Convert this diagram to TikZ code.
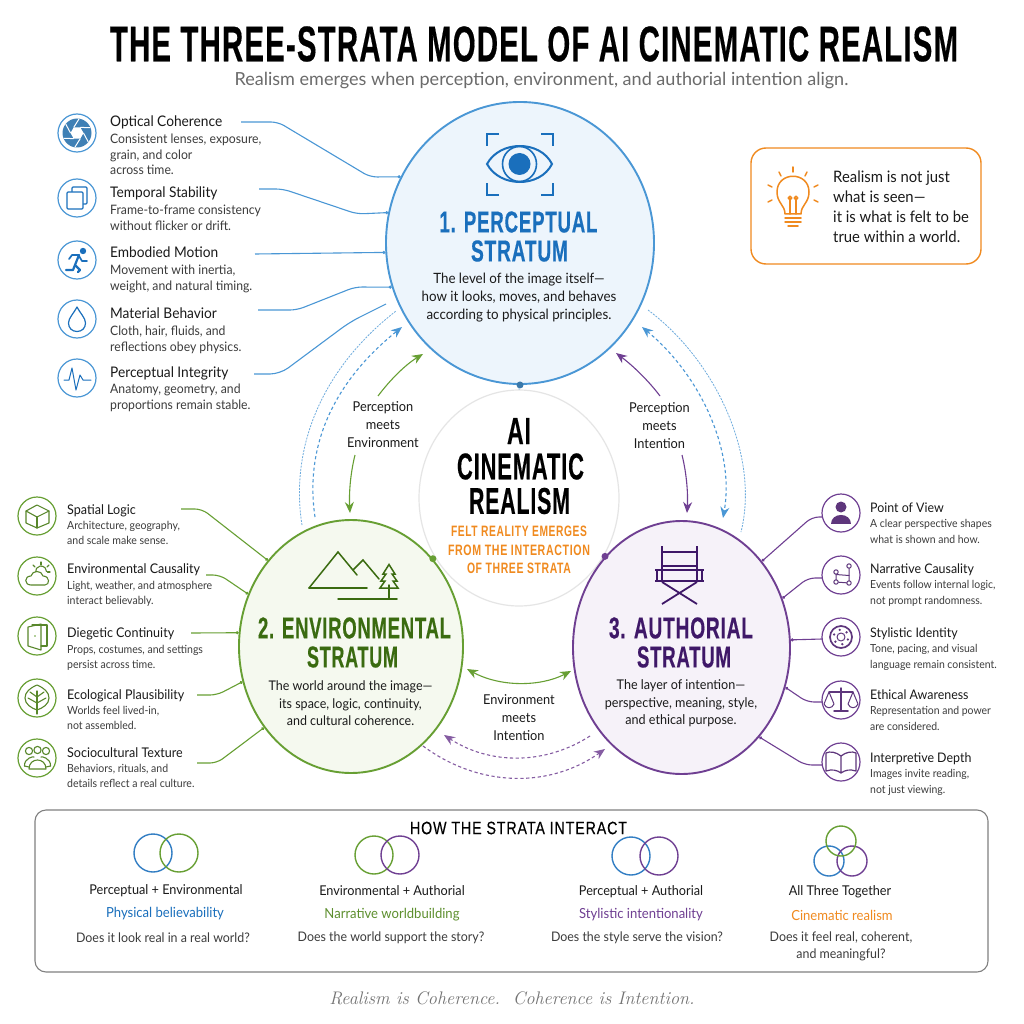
\documentclass[tikz,border=0pt]{standalone}
\usepackage{fontspec}
\usepackage{graphicx}
\usetikzlibrary{arrows.meta,shapes.geometric}
\newfontfamily\bodyf{Lato}[FakeStretch=0.94]
\newfontfamily\subf{Lato}
\newfontfamily\headf{Liberation Sans}[LetterSpace=4,BoldFeatures={FakeBold=0.5}]
\newfontfamily\headl{Liberation Sans}[LetterSpace=6]
\newfontfamily\headm{Liberation Sans}[LetterSpace=6,FakeBold=0.35]
\definecolor{bline}{HTML}{4A97D5}
\definecolor{bdark}{HTML}{1A6FBC}
\definecolor{bfill}{HTML}{EDF5FC}
\definecolor{gline}{HTML}{679F33}
\definecolor{gdark}{HTML}{3A6B10}
\definecolor{gfill}{HTML}{F5F9EF}
\definecolor{pline}{HTML}{6F3F92}
\definecolor{pdark}{HTML}{3F1868}
\definecolor{pfill}{HTML}{F6F2F9}
\definecolor{oline}{HTML}{F08A1F}
\definecolor{txt}{HTML}{1A1A1A}
\definecolor{sub}{HTML}{3C3C3C}
\newcommand\hdg[3]{\resizebox{#1pt}{#2pt}{\headf\bfseries #3}}
\newcommand\hdo[3]{\resizebox{#1pt}{#2pt}{\headl\bfseries #3}}
\newcommand\hdr[3]{\resizebox{#1pt}{#2pt}{\headm #3}}
\newcommand\itm[8]{%
  \node[ttl,font=\bodyf\fontsize{#1}{#1}\selectfont] (t#2) at (#3,#4) {#5};
  \node[dsc,font=\bodyf\fontsize{#6}{15.5}\selectfont] (d#2) at (#3,#7) {#8};}
\tikzset{
  ttl/.style={anchor=base west,inner sep=0pt,text=txt,yshift=-5.5pt},
  dsc/.style={anchor=north west,inner sep=0pt,text=sub,align=left},
  stratum/.style={ellipse,draw,line width=1.9pt,inner sep=0pt},
  ring/.style={circle,draw,line width=1.2pt,minimum size=38pt,inner sep=0pt,fill=white},
  iconb/.style={draw=bdark,line width=1.2pt,line join=round,line cap=round},
  icong/.style={draw=gline!85!black,line width=1.1pt,line join=round,line cap=round},
  iconp/.style={draw=pline!85!black,line width=1.2pt,line join=round,line cap=round},
  conn/.style={line width=1.1pt,rounded corners=7pt,-{Circle[length=3pt]}},
  connfree/.style={line width=1.1pt,rounded corners=7pt},
  midlab/.style={inner sep=0pt,align=center,text=txt,font=\bodyf\fontsize{13.6}{17.6}\selectfont},
  cdesc/.style={inner sep=0pt,align=center,text=txt,font=\bodyf\fontsize{14.2}{18}\selectfont},
  arrowt/.style={-{Stealth[length=11pt,width=9pt]},line width=1.1pt},
  arrowb/.style={{Stealth[length=11pt,width=9pt]}-{Stealth[length=11pt,width=9pt]},line width=1.1pt},
  dashl/.style={line width=1.1pt,dash pattern=on 3.2pt off 2.6pt},
  dotl/.style={line width=0.8pt,dash pattern=on 2pt off 1.2pt},
  dotnode/.style={circle,inner sep=0pt,minimum size=7pt},
  pq/.style={inner sep=0pt,align=center,text=sub,font=\bodyf\fontsize{13.2}{17}\selectfont},
  pt/.style={inner sep=0pt,text=txt,font=\bodyf\fontsize{13.5}{15}\selectfont},
  pk/.style={inner sep=0pt,font=\bodyf\fontsize{13.9}{15}\selectfont},
  venn/.style={circle,draw,line width=1.4pt,inner sep=0pt,minimum size=38pt},
  venns/.style={circle,draw,line width=1.4pt,inner sep=0pt,minimum size=30pt},
}
\begin{document}
\begin{tikzpicture}[x=1pt,y=-1pt]
\useasboundingbox (0,0) rectangle (1024,1024);
\fill[white] (0,0) rectangle (1024,1024);
% title
\node[inner sep=0pt] (title) at (534,44) {\hdg{848}{35}{THE THREE-STRATA MODEL OF AI CINEMATIC REALISM}};
\node[inner sep=0pt,text=black!58,font=\subf\fontsize{18.05}{20}\selectfont] (subtitle) at (541.5,81) {Realism emerges when perception, environment, and authorial intention align.};
% strata
\node[stratum,draw=bline,fill=bfill,minimum width=268pt,minimum height=282pt] (P) at (520,243) {};
\node[ellipse,draw=black!10,line width=1.2pt,fill=white,inner sep=0pt,minimum width=200pt,minimum height=216pt] (C) at (519,498) {};
\node[stratum,draw=gline,fill=gfill,minimum width=224pt,minimum height=253pt] (E) at (351,646.5) {};
\node[stratum,draw=pline,fill=pfill,minimum width=217pt,minimum height=253pt] (A) at (681.5,647.5) {};
\node[dotnode,fill=bline!80!black] (dp) at (P.south) {};
\node[dotnode,fill=gline] (de) at (E.47) {};
\node[dotnode,fill=pline] (da) at (A.130.6) {};
\draw[bline,line width=1pt] (dp) -- (C.north);
% stratum text
\node[inner sep=0pt] (h1a) at (518.5,222) {\textcolor{bdark}{\hdg{158}{21}{1. PERCEPTUAL}}};
\node[inner sep=0pt] (h1b) at (519.5,251) {\textcolor{bdark}{\hdg{97}{21}{STRATUM}}};
\node[cdesc] (p1) at (519,298) {The level of the image itself—\\how it looks, moves, and behaves\\according to physical principles.};
\node[inner sep=0pt] (h2a) at (354.5,628) {\textcolor{gdark}{\hdg{193}{21}{2. ENVIRONMENTAL}}};
\node[inner sep=0pt] (h2b) at (352.5,657) {\textcolor{gdark}{\hdg{91}{21}{STRATUM}}};
\node[cdesc,font=\bodyf\fontsize{13.3}{17.6}\selectfont] (p2) at (350.5,703.5) {The world around the image—\\its space, logic, continuity,\\and cultural coherence.};
\node[inner sep=0pt] (h3a) at (681,628) {\textcolor{pdark}{\hdg{144}{21}{3. AUTHORIAL}}};
\node[inner sep=0pt] (h3b) at (684,657) {\textcolor{pdark}{\hdg{94}{21}{STRATUM}}};
\node[cdesc,font=\bodyf\fontsize{13.4}{17.6}\selectfont] (p3) at (681,703.5) {The layer of intention—\\perspective, meaning, style,\\and ethical purpose.};
% centre
\node[inner sep=0pt] (c1) at (519,431) {\hdg{24}{26}{AI}};
\node[inner sep=0pt] (c2) at (520.5,466.5) {\hdg{127}{26}{CINEMATIC}};
\node[inner sep=0pt] (c3) at (519.5,501) {\hdg{101}{26}{REALISM}};
\node[inner sep=0pt] (c4) at (519,531) {\textcolor{oline}{\hdo{136}{10.5}{FELT REALITY EMERGES}}};
\node[inner sep=0pt] (c5) at (519,550) {\textcolor{oline}{\hdo{142}{10.5}{FROM THE INTERACTION}}};
\node[inner sep=0pt] (c6) at (519,568) {\textcolor{oline}{\hdo{104}{10.5}{OF THREE STRATA}}};
% eye icon
\begin{scope}[draw=bdark,line width=1.6pt]
\draw[bdark] (499,134) -- (487,134) -- (487,146);
\draw[bdark] (541,134) -- (553,134) -- (553,146);
\draw[bdark] (499,195) -- (487,195) -- (487,183);
\draw[bdark] (541,195) -- (553,195) -- (553,183);
\draw[bdark,line width=2pt] (487,164) .. controls (500,140) and (540,140) .. (552,164) .. controls (540,188) and (500,188) .. (487,164) -- cycle;
\draw[bdark,line width=1.6pt] (519.5,164) ellipse [x radius=17,y radius=17.5];
\fill[bdark] (519.5,164) circle [radius=11];
\end{scope}
% mountains icon
\begin{scope}[gdark,line width=1.5pt,line cap=round,line join=miter]
\draw (309,588) -- (338,552) -- (357,575);
\draw (353,570) -- (363,560) -- (379,579);
\draw (309,588) -- (367,588);
\draw (338,599) -- (397,599);
\draw (389,599) -- (389,585);
\draw (389,564.5) -- (383,574) -- (386,574) -- (381,581) -- (385,581) -- (380,588) -- (398,588) -- (393,581) -- (397,581) -- (392,574) -- (395,574) -- cycle;
\end{scope}
% chair icon
\begin{scope}[pdark,line width=1.8pt,line cap=butt]
\draw (662,546) -- (662,581);
\draw (697,546) -- (697,581);
\draw (662,552) -- (697,552);
\draw (662,566) -- (697,566);
\draw (655,570) -- (704,570);
\draw (657,570) -- (657,581);
\draw (702,570) -- (702,581);
\draw (655,581) -- (704,581);
\draw (662,582) -- (697,604);
\draw (697,582) -- (662,604);
\end{scope}
% callout
\node[draw=oline,line width=1.4pt,rounded corners=15pt,minimum width=230pt,minimum height=116pt,inner sep=0pt] (box) at (866,206) {};
\node[inner sep=0pt,align=left,text=txt,anchor=north west,font=\bodyf\fontsize{15.8}{20}\selectfont] (boxtxt) at (833,171) {Realism is not just\\what is seen—\\it is what is felt to be\\true within a world.};
\begin{scope}[oline,line width=1.5pt,line cap=round,line join=round]
\draw (785,214) .. controls (785,205) and (777,203) .. (777,192) .. controls (777,171) and (809,171) .. (809,192) .. controls (809,203) and (801,205) .. (801,214) -- cycle;
\draw (785,218) -- (801,218);
\draw (785,222) -- (801,222);
\draw (788,226) -- (798,226);
\draw (790,214) -- (790,198);
\draw (796,214) -- (796,198);
\draw (790,198) circle [radius=1.8];
\draw (796,198) circle [radius=1.8];
\draw (793,172) -- (793,167);
\draw (781,176) -- (779,172);
\draw (805,176) -- (807,172);
\draw (772,187) -- (768,185);
\draw (814,187) -- (818,185);
\draw (772,200) -- (768,202);
\draw (814,200) -- (818,202);
\end{scope}
% mid arrows
\coordinate (ag1) at (378,396); \coordinate (ag2) at (423,354);
\coordinate (ag3) at (355,455); \coordinate (ag4) at (350,513);
\draw[arrowt,gline] (ag1) .. controls (390,380) and (405,365) .. (ag2);
\draw[arrowt,gline] (ag3) .. controls (350,475) and (349,495) .. (ag4);
\coordinate (ap1) at (660,396); \coordinate (ap2) at (616,353);
\coordinate (ap3) at (682,455); \coordinate (ap4) at (687,513);
\draw[arrowt,pline] (ap1) .. controls (648,380) and (632,365) .. (ap2);
\draw[arrowt,pline] (ap3) .. controls (687,475) and (688,495) .. (ap4);
\coordinate (ag5) at (467,669); \coordinate (ag6) at (571,671);
\draw[arrowb,gline] (ag5) .. controls (500,687) and (540,687) .. (ag6);
\coordinate (ap5) at (444,735); \coordinate (ap6) at (590,736);
\draw[dashl,pline!85,-{Stealth[length=11pt,width=9pt]}] (ap6) .. controls (545,765) and (490,765) .. (ap5);
\coordinate (ap7) at (423,746); \coordinate (ap8) at (605,749);
\draw[dashl,pline!85,-{Stealth[length=11pt,width=9pt]}] (ap7) .. controls (480,788) and (550,788) .. (ap8);
% long dashed arcs
\coordinate (bl1) at (315,517); \coordinate (bl2) at (402,327);
\draw[dashl,bline,-{Stealth[length=11pt,width=9pt]}] (bl1) .. controls (305,450) and (330,385) .. (bl2);
\coordinate (bl3) at (302,525); \coordinate (bl4) at (396,311);
\draw[dotl,bline!80] (bl3) .. controls (290,450) and (320,370) .. (bl4);
\coordinate (br1) at (642,327); \coordinate (br2) at (723,518);
\draw[dashl,bline,{Stealth[length=11pt,width=9pt]}-{Stealth[length=11pt,width=9pt]}] (br1) .. controls (700,375) and (735,450) .. (br2);
\coordinate (br3) at (648,310); \coordinate (br4) at (741,532);
\draw[dotl,bline!80] (br3) .. controls (715,360) and (760,455) .. (br4);
\node[midlab] (m1) at (383,424.5) {Perception\\meets\\Environment};
\node[midlab] (m2) at (659.5,425.5) {Perception\\meets\\Intention};
\node[midlab] (m3) at (519,717.5) {Environment\\meets\\Intention};
% blue connectors
\coordinate (cb1) at (241,122); \coordinate (cb2) at (259,189); \coordinate (cb3) at (255,254); \coordinate (cb4) at (258,310); \coordinate (cb5) at (254,374); \coordinate (cb6) at (386,304);
\draw[conn,bline] (cb1) -- (278,122) -- (370,177) -- (P.151.4);
\draw[conn,bline] (cb2) -- (283,189) -- (357,214) -- (P.167.7);
\draw[conn,bline] (cb3) -- (P.184.7);
\draw[conn,bline] (cb4) -- (297,310) -- (355,287) -- (P.199.1);
\draw[connfree,bline,rounded corners=10pt] (cb5) -- (280,374) -- (350,322) -- (cb6);
% blue items
\foreach \n/\yy in {1/133,2/198,3/260,4/319,5/378} \node[ring,draw=bline] (ib\n) at (77,\yy) {};
\itm{14.6}{b1}{110}{121}{Optical Coherence}{13}{134}{Consistent lenses, exposure,\\grain, and color\\across time.}
\itm{14.6}{b2}{110}{192}{Temporal Stability}{13}{205}{Frame-to-frame consistency\\without flicker or drift.}
\itm{14.6}{b3}{110}{252}{Embodied Motion}{13}{265}{Movement with inertia,\\weight, and natural timing.}
\itm{14.6}{b4}{110}{313}{Material Behavior}{13}{326}{Cloth, hair, fluids, and\\reflections obey physics.}
\itm{14.6}{b5}{110}{372}{Perceptual Integrity}{13}{384}{Anatomy, geometry, and\\proportions remain stable.}
% aperture
\fill[bline!85!black] (77,133) circle [radius=14.5];
\fill[white] (70.5,133) -- (73.7,127.4) -- (80.3,127.4) -- (83.5,133) -- (80.3,138.6) -- (73.7,138.6) -- cycle;
\foreach \a in {0,60,...,300} \draw[white,line width=1pt] (77,133) ++(\a:6.5) -- ++(\a+62:10);
% frames
\draw[iconb,fill=white,rounded corners=1pt] (72,187) rectangle (87,204);
\draw[iconb,fill=white,rounded corners=1pt] (67,192) rectangle (83,209);
% runner
\fill[bdark] (83,251) circle [radius=3.2];
\draw[bdark,line width=2.2pt,line cap=round,line join=round] (79,255) -- (75,265) -- (80,270) -- (78,272);
\draw[bdark,line width=2.2pt,line cap=round,line join=round] (75,265) -- (73,270) -- (66,270);
\draw[bdark,line width=1.7pt,line cap=round,line join=round] (79,255) -- (72,255) -- (69,259);
\draw[bdark,line width=1.7pt,line cap=round,line join=round] (79,256) -- (82,261) -- (87,261);
% drop
\draw[iconb] (77,307) .. controls (74,313) and (68.5,318) .. (68.5,323) .. controls (68.5,328) and (72,331.5) .. (77,331.5) .. controls (82,331.5) and (85.5,328) .. (85.5,323) .. controls (85.5,318) and (80,313) .. (77,307) -- cycle;
% pulse
\draw[iconb,line width=1pt] (64,380) -- (69,380) -- (72,368) -- (76,390) -- (80,375) -- (83,380) -- (91,380);
% green connectors
\coordinate (cg1) at (181,509); \coordinate (cg2) at (206,575); \coordinate (cg3) at (191,633); \coordinate (cg4) at (197,695); \coordinate (cg5) at (197,763);
\draw[conn,gline] (cg1) -- (202,509) -- (E.134.8);
\draw[conn,gline] (cg2) -- (220,575) -- (E.153);
\draw[conn,gline] (cg3) -- (E.173);
\draw[conn,gline] (cg4) -- (217,695) -- (E.198.2);
\draw[conn,gline] (cg5) -- (217,763) -- (E.223.5);
% green items
\foreach \n/\yy in {1/516,2/576,3/636,4/698,5/758} \node[ring,draw=gline] (ig\n) at (37,\yy) {};
\itm{13.35}{g1}{67}{509}{Spatial Logic}{11.2}{521}{Architecture, geography,\\and scale make sense.}
\itm{13.35}{g2}{67}{568}{Environmental Causality}{11.2}{581}{Light, weather, and atmosphere\\interact believably.}
\itm{13.35}{g3}{67}{632}{Diegetic Continuity}{11.2}{645}{Props, costumes, and settings\\persist across time.}
\itm{13.35}{g4}{67}{694}{Ecological Plausibility}{11.2}{706}{Worlds feel lived-in,\\not assembled.}
\itm{13.35}{g5}{67}{752}{Sociocultural Texture}{11.2}{764}{Behaviors, rituals, and\\details reflect a real culture.}
% cube
\draw[icong] (37,505) -- (49,511) -- (49,523) -- (37,528) -- (26,523) -- (26,511) -- cycle;
\draw[icong] (26,511) -- (37,517) -- (49,511);
\draw[icong] (37,517) -- (37,528);
% cloud & sun
\draw[icong] (41,571.5) ++(170:5.5) arc (170:360:5.5);
\draw[icong] (41,562) -- (41,565);
\draw[icong] (33,565) -- (35,567);
\draw[icong] (49,565) -- (47,567);
\draw[icong] (50,572) -- (47.5,572);
\draw[icong,fill=white] (31,585) .. controls (24,585) and (24,576) .. (31,576) .. controls (32,570) and (42,570) .. (43,576) .. controls (50,576) and (50,585) .. (45,585) -- cycle;
% door
\draw[icong] (32,625) -- (47,625) -- (47,646) -- (41,646);
\draw[icong] (28,627) -- (41,624) -- (41,650) -- (28,646) -- cycle;
\fill[gline] (35,636) circle [radius=0.9];
% leaf
\draw[icong] (37,685) .. controls (44,688) and (49,692) .. (49,698) .. controls (49,704) and (43,708) .. (37,710) .. controls (31,708) and (25,704) .. (25,698) .. controls (25,692) and (30,688) .. (37,685) -- cycle;
\draw[icong] (37,691) -- (37,714);
\draw[icong] (37,697) -- (44,692);
\draw[icong] (37,697) -- (30,692);
\draw[icong] (37,703) -- (46,698);
\draw[icong] (37,703) -- (28,698);
% people
\draw[icong] (29,751) circle [radius=3.6];
\draw[icong] (46,751) circle [radius=3.6];
\draw[icong] (37.5,750) circle [radius=3.6];
\draw[icong] (24.5,766) .. controls (24,758) and (34,756) .. (34,757);
\draw[icong] (50.5,766) .. controls (51,758) and (41,756) .. (41,757);
\draw[icong] (24.5,766) -- (29,767);
\draw[icong] (50.5,766) -- (46,767);
\draw[icong,fill=white] (29,769) .. controls (29,757) and (46,757) .. (46,769) -- cycle;
% purple items
\foreach \n/\yy in {1/513,2/575,3/637,4/700,5/762} \node[ring,draw=pline] (ip\n) at (841,\yy) {};
\draw[conn,pline] (ip1) ++(-19,4) coordinate (cp1) -- ++(-10,0) -- (A.47.4);
\draw[conn,pline] (ip2) ++(-19,3) coordinate (cp2) -- ++(-14,0) -- (A.26.5);
\draw[conn,pline] (ip3) ++(-19,2) coordinate (cp3) -- (A.4.5);
\draw[conn,pline] (ip4) ++(-19,2) coordinate (cp4) -- ++(-15,0) -- (A.-21.5);
\draw[conn,pline] (ip5) ++(-19,3) coordinate (cp5) -- ++(-17,0) -- (A.-49);
\itm{13.2}{p1}{870}{507}{Point of View}{11.1}{519.5}{A clear perspective shapes\\what is shown and how.}
\itm{13.2}{p2}{870}{568}{Narrative Causality}{11.1}{580.5}{Events follow internal logic,\\not prompt randomness.}
\itm{13.2}{p3}{870}{632}{Stylistic Identity}{11.1}{644.5}{Tone, pacing, and visual\\language remain consistent.}
\itm{13.2}{p4}{870}{694}{Ethical Awareness}{11.1}{706.5}{Representation and power\\are considered.}
\itm{13.2}{p5}{870}{757}{Interpretive Depth}{11.1}{769.5}{Images invite reading,\\not just viewing.}
% person
\fill[pline!85!black] (841,507) circle [radius=5.5];
\fill[pline!85!black] (831,524) .. controls (831,512) and (851,512) .. (851,524) -- cycle;
% network
\draw[iconp,line width=1pt] (836,572) -- (836,582) -- (849,583) -- (849,566);
\draw[iconp,line width=1pt] (836,574.5) -- (849,575.5);
\foreach \p in {(836,572),(849,566),(836,582),(849,583)} \draw[iconp,line width=1pt,fill=white] \p circle [radius=2.2];
% palette
\draw[iconp,line width=1.7pt] (841,637) circle [radius=11];
\draw[iconp,line width=1pt] (841,637) circle [radius=4];
\foreach \a in {20,80,140,200,260,320} \fill[pline!85!black] (841,637) ++(\a:7.3) circle [radius=1.3];
% scales
\draw[iconp,line width=1.5pt] (841,688) -- (841,711);
\draw[iconp,line width=1.5pt] (834,711) -- (848,711);
\draw[iconp] (829,692) -- (853,692);
\draw[iconp,line width=1pt] (824,704) -- (829,692) -- (834,704) .. controls (832,709) and (826,709) .. (824,704) -- cycle;
\draw[iconp,line width=1pt] (848,704) -- (853,692) -- (858,704) .. controls (856,709) and (850,709) .. (848,704) -- cycle;
% book
\draw[iconp,line width=1.2pt] (841,756) .. controls (836,752) and (830,751) .. (826,753) -- (826,771) .. controls (832,769) and (837,770) .. (841,773) .. controls (845,770) and (850,769) .. (856,771) -- (856,753) .. controls (852,751) and (846,752) .. (841,756) -- (841,773);
% bottom panel
\node[draw=black!50,line width=1.1pt,rounded corners=11pt,minimum width=953pt,minimum height=162pt,inner sep=0pt] (panel) at (511.5,891) {};
\node[inner sep=0pt] (ptitle) at (518.5,828) {\hdr{217}{12.5}{HOW THE STRATA INTERACT}};
\node[venn,draw=bdark!90] (v1) at (153,853) {};
\node[venn,draw=gline] (v2) at (179,853) {};
\node[venn,draw=gline] (v3) at (374,855) {};
\node[venn,draw=pline] (v4) at (400,855) {};
\node[venn,draw=bdark!90] (v5) at (631,856) {};
\node[venn,draw=pline] (v6) at (659,856) {};
\node[venns,draw=bdark!90] (v7) at (829,861) {};
\node[venns,draw=pline] (v8) at (852,861) {};
\node[venns,draw=gline] (v9) at (841,841) {};
\node[pt] (a1) at (166,891) {Perceptual + Environmental};
\node[pk,text=bdark] (a2) at (165,914) {Physical believability};
\node[pq] (a3) at (163,938) {Does it look real in a real world?};
\node[pt] (b1) at (392,891) {Environmental + Authorial};
\node[pk,text=gline!90!black] (b2) at (392,915) {Narrative worldbuilding};
\node[pq] (b3) at (391,938) {Does the world support the story?};
\node[pt] (c1b) at (641,892) {Perceptual + Authorial};
\node[pk,text=pline] (c2b) at (641,915) {Stylistic intentionality};
\node[pq] (c3b) at (637,938) {Does the style serve the vision?};
\node[pt] (d1b) at (840,892) {All Three Together};
\node[pk,text=oline] (d2b) at (842,915) {Cinematic realism};
\node[pq] (d3b) at (841,946.5) {Does it feel real, coherent,\\and meaningful?};
% footer
\node[inner sep=0pt,text=black!55,font=\rmfamily\itshape\fontsize{18.2}{20}\selectfont] (foot) at (512,998) {Realism is Coherence.\ \ Coherence is Intention.};
\end{tikzpicture}
\end{document}
